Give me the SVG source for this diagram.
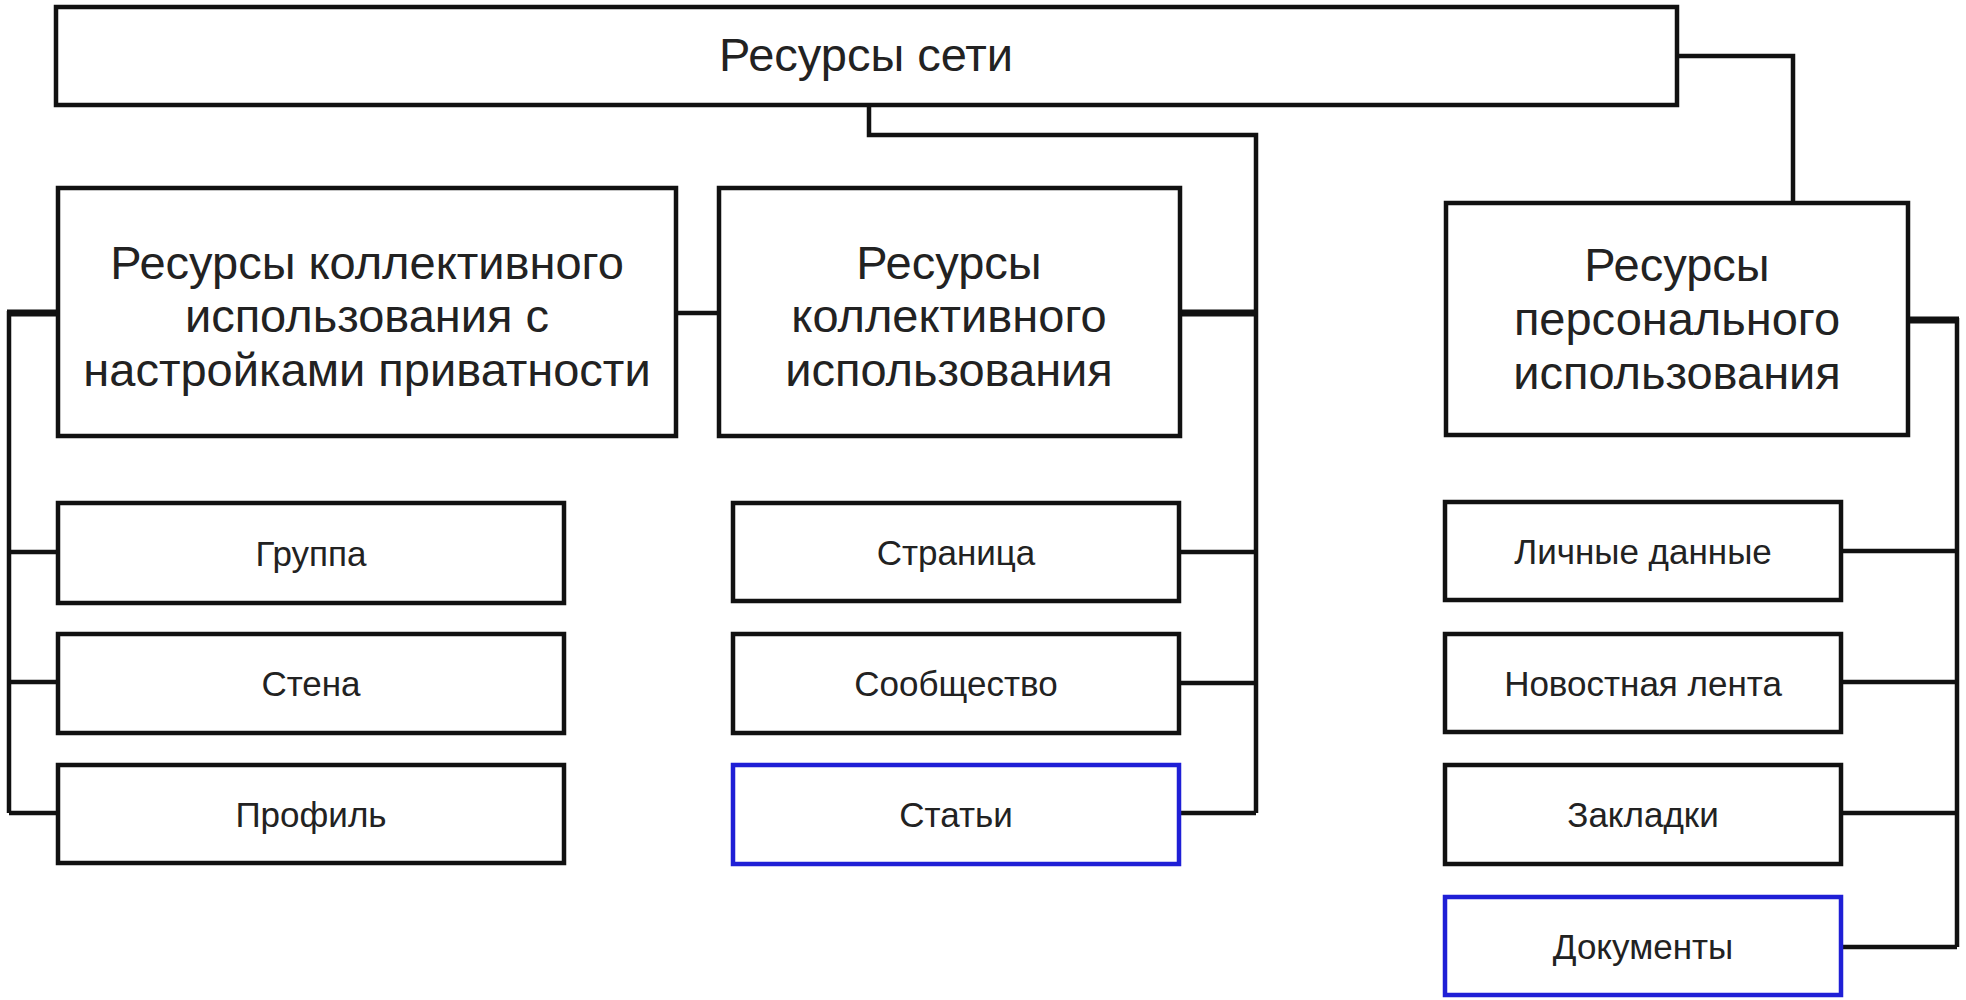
<svg xmlns="http://www.w3.org/2000/svg" width="1966" height="1000" viewBox="0 0 1966 1000">
<style>
.box{fill:#ffffff;stroke:#111111;stroke-width:4.5}
.blue{fill:#ffffff;stroke:#1f1fd6;stroke-width:4.5}
.big{font-family:"Liberation Sans",Arial,sans-serif;font-size:47px;fill:#222222;text-anchor:middle}
.small{font-family:"Liberation Sans",Arial,sans-serif;font-size:35px;fill:#222222;text-anchor:middle}
.ln{fill:none;stroke:#111111;stroke-width:4.5}
.heavy{fill:none;stroke:#111111;stroke-width:7}
</style>
<rect width="1966" height="1000" fill="#ffffff"/>
<g id="connectors">
<path class="ln" d="M869,106 V135 H1256 V813"/>
<path class="ln" d="M1179,552 H1256 M1179,683 H1256 M1179,813 H1256"/>
<path class="heavy" d="M1180,313 H1258"/>
<path class="ln" d="M1677,56 H1793 V203"/>
<path class="heavy" d="M1908,320 H1959"/>
<path class="ln" d="M1957,318 V947"/>
<path class="ln" d="M1841,551 H1957 M1841,682 H1957 M1841,813 H1957 M1841,947 H1957"/>
<path class="heavy" d="M58,313 H7"/>
<path class="ln" d="M9,311 V813"/>
<path class="ln" d="M9,552 H58 M9,682 H58 M9,813 H58"/>
<path class="ln" d="M676,313 H719"/>
</g>
<g id="root">
<rect class="box" x="56" y="7" width="1621" height="98"/>
<text class="big" x="866" y="71">Ресурсы сети</text>
</g>
<g id="shared-private">
<rect class="box" x="58" y="188" width="618" height="248"/>
<text class="big" x="367" y="279">Ресурсы коллективного</text>
<text class="big" x="367" y="332">использования с</text>
<text class="big" x="367" y="386">настройками приватности</text>
</g>
<g id="shared">
<rect class="box" x="719" y="188" width="461" height="248"/>
<text class="big" x="949" y="279">Ресурсы</text>
<text class="big" x="949" y="332">коллективного</text>
<text class="big" x="949" y="386">использования</text>
</g>
<g id="personal">
<rect class="box" x="1446" y="203" width="462" height="232"/>
<text class="big" x="1677" y="281">Ресурсы</text>
<text class="big" x="1677" y="335">персонального</text>
<text class="big" x="1677" y="389">использования</text>
</g>
<g id="group">
<rect class="box" x="58" y="503" width="506" height="100"/>
<text class="small" x="311" y="566">Группа</text>
</g>
<g id="wall">
<rect class="box" x="58" y="634" width="506" height="99"/>
<text class="small" x="311" y="696">Стена</text>
</g>
<g id="profile">
<rect class="box" x="58" y="765" width="506" height="98"/>
<text class="small" x="311" y="827">Профиль</text>
</g>
<g id="page">
<rect class="box" x="733" y="503" width="446" height="98"/>
<text class="small" x="956" y="565">Страница</text>
</g>
<g id="community">
<rect class="box" x="733" y="634" width="446" height="99"/>
<text class="small" x="956" y="696">Сообщество</text>
</g>
<g id="articles">
<rect class="blue" x="733" y="765" width="446" height="99"/>
<text class="small" x="956" y="827">Статьи</text>
</g>
<g id="personal-data">
<rect class="box" x="1445" y="502" width="396" height="98"/>
<text class="small" x="1643" y="564">Личные данные</text>
</g>
<g id="news-feed">
<rect class="box" x="1445" y="634" width="396" height="98"/>
<text class="small" x="1643" y="696">Новостная лента</text>
</g>
<g id="bookmarks">
<rect class="box" x="1445" y="765" width="396" height="99"/>
<text class="small" x="1643" y="827">Закладки</text>
</g>
<g id="documents">
<rect class="blue" x="1445" y="897" width="396" height="98"/>
<text class="small" x="1643" y="959">Документы</text>
</g>
</svg>
